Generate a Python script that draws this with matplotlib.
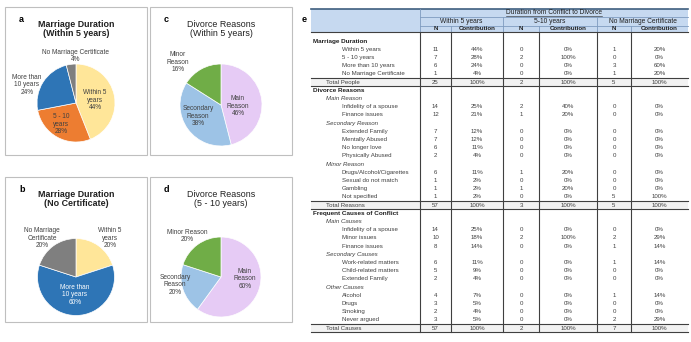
import matplotlib.pyplot as plt
from matplotlib.patches import Rectangle

plt.rcParams['font.family'] = ['Liberation Sans', 'DejaVu Sans']

W, H = 691, 342

# pie data (percent shares)
dur_within5_labels = ["Within 5\nyears", "5 - 10\nyears", "More than\n10 years", "No Marriage Certificate"]
dur_within5_pct = [44, 28, 24, 4]
dur_nocert_labels = ["Within 5\nyears", "More than\n10 years", "No Marriage\nCertificate"]
dur_nocert_pct = [20, 60, 20]
reason_within5_labels = ["Main\nReason", "Secondary\nReason", "Minor\nReason"]
reason_within5_pct = [46, 38, 16]
reason_5to10_labels = ["Main\nReason", "Secondary\nReason", "Minor Reason"]
reason_5to10_pct = [60, 20, 20]

dur_colors = ["#FFE699", "#ED7D31", "#2E75B6", "#7F7F7F"]
dur_nocert_colors = ["#FFE699", "#2E75B6", "#7F7F7F"]
reason_colors = ["#E6CBF5", "#9DC3E6", "#70AD47"]

# table data: columns are Within 5 years / 5-10 years / No Marriage Certificate
col_groups = ["Within 5 years", "5-10 years", "No Marriage Certificate"]

duration_labels = ["Within 5 years", "5 - 10 years", "More than 10 years", "No Marriage Certificate"]
duration_n = [[11, 0, 1], [7, 2, 0], [6, 0, 3], [1, 0, 1]]
duration_pct = [[44, 0, 20], [28, 100, 0], [24, 0, 60], [4, 0, 20]]
people_total = [25, 2, 5]

reason_groups = ["Main Reason", "Secondary Reason", "Minor Reason"]
reason_labels = [["Infidelity of a spouse", "Finance issues"],
                 ["Extended Family", "Mentally Abused", "No longer love", "Physically Abused"],
                 ["Drugs/Alcohol/Cigarettes", "Sexual do not match", "Gambling", "Not specified"]]
reason_n = [[[14, 2, 0], [12, 1, 0]],
            [[7, 0, 0], [7, 0, 0], [6, 0, 0], [2, 0, 0]],
            [[6, 1, 0], [1, 0, 0], [1, 1, 0], [1, 0, 5]]]
reason_pct = [[[25, 40, 0], [21, 20, 0]],
              [[12, 0, 0], [12, 0, 0], [11, 0, 0], [4, 0, 0]],
              [[11, 20, 0], [2, 0, 0], [2, 20, 0], [2, 0, 100]]]
reason_total = [57, 3, 5]

cause_groups = ["Main Causes", "Secondary Causes", "Other Causes"]
cause_labels = [["Infidelity of a spouse", "Minor issues", "Finance issues"],
                ["Work-related matters", "Child-related matters", "Extended Family"],
                ["Alcohol", "Drugs", "Smoking", "Never argued"]]
cause_n = [[[14, 0, 0], [10, 2, 2], [8, 0, 1]],
           [[6, 0, 1], [5, 0, 0], [2, 0, 0]],
           [[4, 0, 1], [3, 0, 0], [2, 0, 0], [3, 0, 2]]]
cause_pct = [[[25, 0, 0], [18, 100, 29], [14, 0, 14]],
             [[11, 0, 14], [9, 0, 0], [4, 0, 0]],
             [[7, 0, 14], [5, 0, 0], [4, 0, 0], [5, 0, 29]]]
cause_total = [57, 2, 7]

fig = plt.figure(figsize=(W / 100, H / 100), dpi=100)


def px_axes(x0, y0, x1, y1):
    return fig.add_axes([x0 / W, 1 - y1 / H, (x1 - x0) / W, (y1 - y0) / H])


panels = [
    # letter, box, title, bold, centre, radius, labels, values, colours, label spots, label colours
    ("a", (5, 7, 147, 155), "Marriage Duration\n(Within 5 years)", True, (76, 103), 39,
     dur_within5_labels, dur_within5_pct, dur_colors,
     [(95, 100), (61, 124), (27, 85), (76, 56)], ["#404040"] * 4),
    ("b", (5, 177, 147, 322), "Marriage Duration\n(No Certificate)", True, (76, 277), 38.5,
     dur_nocert_labels, dur_nocert_pct, dur_nocert_colors,
     [(110, 238), (75, 295), (42, 238)], ["#404040", "white", "#404040"]),
    ("c", (150, 7, 292, 155), "Divorce Reasons\n(Within 5 years)", False, (221, 105), 41,
     reason_within5_labels, reason_within5_pct, reason_colors,
     [(238, 106), (198, 116), (178, 62)], ["#404040"] * 3),
    ("d", (150, 177, 292, 322), "Divorce Reasons\n(5 - 10 years)", False, (221, 277), 40,
     reason_5to10_labels, reason_5to10_pct, reason_colors,
     [(245, 279), (175, 285), (187, 236)], ["#404040"] * 3),
]

for letter, box, title, bold, (cx, cy), r, labels, vals, cols, spots, tcols in panels:
    ax = px_axes(cx - r, cy - r, cx + r, cy + r)
    ax.pie(vals, colors=cols, startangle=90, counterclock=False,
           wedgeprops=dict(edgecolor="white", linewidth=0.5))
    ax.set_xlim(-1, 1)
    ax.set_ylim(-1, 1)
    ax.axis("off")

# overlay in pixel coordinates for boxes, texts and the table
bg = fig.add_axes([0, 0, 1, 1])
bg.set_xlim(0, W)
bg.set_ylim(H, 0)
bg.axis("off")

for letter, box, title, bold, (cx, cy), r, labels, vals, cols, spots, tcols in panels:
    x0, y0, x1, y1 = box
    bg.add_patch(Rectangle((x0, y0), x1 - x0, y1 - y0, fill=False,
                           edgecolor="#BFBFBF", linewidth=0.8))
    bg.text(x0 + 14, y0 + 13, letter, fontsize=6.5, fontweight="bold", ha="left", va="center")
    bg.text((x0 + x1) / 2, y0 + 22, title, fontsize=6.4, fontweight="bold" if bold else "normal",
            ha="center", va="center", linespacing=1.0, color="#202020")
    for lab, v, (tx, ty), tc in zip(labels, vals, spots, tcols):
        bg.text(tx, ty, f"{lab}\n{v}%", fontsize=4.7, ha="center", va="center",
                color=tc, linespacing=1.05)

# ---- table ----
TL, TR = 311, 688
vlines = [420, 451, 503, 539, 597, 631]
col_edges = [420, 451, 503, 539, 597, 631, TR]
hdr_y = [9, 17, 26, 32]
row_top, row_h = 37, 8.2
text_c = "#404040"

bg.text(302, 20, "e", fontsize=6.5, fontweight="bold", ha="left", va="center")

bg.add_patch(Rectangle((TL, hdr_y[0]), TR - TL, hdr_y[-1] - hdr_y[0],
                       facecolor="#C6D9F0", edgecolor="none"))
bg.plot([TL, TR], [hdr_y[0], hdr_y[0]], color="#3F5F7F", linewidth=1.2)
for yy in hdr_y[1:3]:
    bg.plot([420, TR], [yy, yy], color="#7F9CBF", linewidth=0.6)
bg.plot([TL, TR], [hdr_y[-1], hdr_y[-1]], color="#404040", linewidth=0.8)

hdr = bg.text((420 + TR) / 2, 13, "Duration from Conflict to Divorce", fontsize=4.8,
              ha="center", va="center", color="#202020")
for k, grp in enumerate(col_groups):
    gx0, gx1 = col_edges[2 * k], col_edges[2 * k + 2]
    bg.text((gx0 + gx1) / 2, 21.5, grp, fontsize=4.8, ha="center", va="center", color="#202020")
    bg.text((gx0 + col_edges[2 * k + 1]) / 2, 29, "N", fontsize=4.4, fontweight="bold",
            ha="center", va="center", color="#202020")
    bg.text((col_edges[2 * k + 1] + gx1) / 2, 29, "Contribution", fontsize=4.4, fontweight="bold",
            ha="center", va="center", color="#202020")

# underline for the spanning header
fig.canvas.draw()
bb = hdr.get_window_extent().transformed(bg.transData.inverted())
bg.plot([bb.x0, bb.x1], [16.2, 16.2], color="#202020", linewidth=0.4)

# header separators
bg.plot([420, 420], [hdr_y[0], hdr_y[-1]], color="#7F9CBF", linewidth=0.6)
for x in (503, 597):
    bg.plot([x, x], [hdr_y[1], hdr_y[-1]], color="#7F9CBF", linewidth=0.6)
for x in (451, 539, 631):
    bg.plot([x, x], [hdr_y[2], hdr_y[-1]], color="#7F9CBF", linewidth=0.6)

rows = []
rows.append(("section", "Marriage Duration", None, None))
for lab, n, p in zip(duration_labels, duration_n, duration_pct):
    rows.append(("item", lab, n, p))
rows.append(("total", "Total People", people_total, [100, 100, 100]))
rows.append(("section", "Divorce Reasons", None, None))
for g, labs, ns, ps in zip(reason_groups, reason_labels, reason_n, reason_pct):
    rows.append(("group", g, None, None))
    for lab, n, p in zip(labs, ns, ps):
        rows.append(("item", lab, n, p))
rows.append(("total", "Total Reasons", reason_total, [100, 100, 100]))
rows.append(("section", "Frequent Causes of Conflict", None, None))
for g, labs, ns, ps in zip(cause_groups, cause_labels, cause_n, cause_pct):
    rows.append(("group", g, None, None))
    for lab, n, p in zip(labs, ns, ps):
        rows.append(("item", lab, n, p))
rows.append(("total", "Total Causes", cause_total, [100, 100, 100]))

fs = 4.4
for i, (kind, lab, n, p) in enumerate(rows):
    top = row_top + i * row_h
    yc = top + row_h / 2
    if kind == "total":
        bg.add_patch(Rectangle((TL, top), TR - TL, row_h, facecolor="#F2F2F2", edgecolor="none"))
        bg.plot([TL, TR], [top, top], color="#404040", linewidth=0.8)
        bg.plot([TL, TR], [top + row_h, top + row_h], color="#404040", linewidth=0.8)
    if kind == "section":
        bg.text(313, yc, lab, fontsize=4.6, fontweight="bold", ha="left", va="center", color="#202020")
    elif kind == "group":
        bg.text(326, yc, lab, fontsize=fs, style="italic", ha="left", va="center", color=text_c)
    elif kind == "total":
        bg.text(326, yc, lab, fontsize=fs, ha="left", va="center", color=text_c)
    else:
        bg.text(342, yc, lab, fontsize=fs, ha="left", va="center", color=text_c)
    if n is not None:
        for k in range(3):
            nx = (col_edges[2 * k] + col_edges[2 * k + 1]) / 2
            px = (col_edges[2 * k + 1] + col_edges[2 * k + 2]) / 2
            bg.text(nx, yc, str(n[k]), fontsize=fs, ha="center", va="center", color=text_c)
            bg.text(px, yc, f"{p[k]}%", fontsize=fs, ha="center", va="center", color=text_c)

table_bottom = row_top + len(rows) * row_h
for x in vlines:
    bg.plot([x, x], [hdr_y[-1], table_bottom], color="#404040", linewidth=0.8)

fig.savefig("out.png", dpi=100)
